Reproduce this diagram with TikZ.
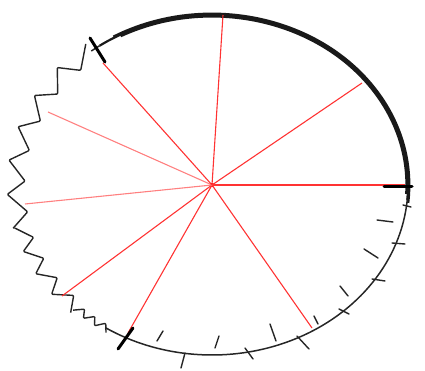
\documentclass[tikz,border=0pt]{standalone}
\newcommand\zigpart[5]{%
  \pgfmathsetmacro\rxo{196+#4}\pgfmathsetmacro\ryo{170+#4}%
  \pgfmathsetmacro\rxi{196-#4}\pgfmathsetmacro\ryi{170-#4}%
  \draw[wave] ([shift={(#1:\rxo pt and \ryo pt)}]c)
  \foreach \k in {1,...,#3} {
    -- ([shift={({#1+(\k-0.5+#5)*#2}:\rxi pt and \ryi pt)}]c)
    -- ([shift={({#1+\k*#2}:\rxo pt and \ryo pt)}]c)
  };}
\begin{document}
\begin{tikzpicture}[x=1pt,y=1pt,
  redline/.style={draw=red!80!white, line width=1.1pt},
  palered/.style={draw=red!50!white, line width=1.1pt},
  rim/.style={line width=1.5pt, black!85},
  thickrim/.style={line width=2.2pt, black!90},
  tickmark/.style={line width=1.4pt, black!85, line cap=round},
  bigtick/.style={line width=3pt, black, line cap=round},
  wave/.style={line width=1.4pt, black!85, line join=round, rounded corners=1pt},
]
\useasboundingbox (0,0) rectangle (425,371);
\coordinate (c) at (212,186);
% red radii end points
\coordinate (e1) at (223,356);
\coordinate (e2) at (362,288);
\coordinate (e3) at (405,186);
\coordinate (e4) at (312,43);
\coordinate (e5) at (128,38);
\coordinate (e6) at (62,75);
\coordinate (e7) at (25,167);
\coordinate (e8) at (48,259);
\coordinate (e9) at (103,308);
% thick top arc (several strokes)
\draw[thickrim] ([shift={(125:196pt and 170pt)}]c) arc[start angle=125,end angle=-5,x radius=196pt,y radius=170pt];
\draw[thickrim] ([shift={(118:194.5pt and 168.5pt)}]c) arc[start angle=118,end angle=-3,x radius=194.5pt,y radius=168.5pt];
\draw[thickrim] ([shift={(120:197.3pt and 171.3pt)}]c) arc[start angle=120,end angle=-6,x radius=197.3pt,y radius=171.3pt];
% thin bottom arc
\draw[rim] ([shift={(-5:196pt and 170pt)}]c) arc[start angle=-5,end angle=-116,x radius=196pt,y radius=170pt];
% wavy left arc
\draw[rim] ([shift={(125:196pt and 170pt)}]c) arc[start angle=125,end angle=128,x radius=196pt,y radius=170pt];
\zigpart{128}{11}{6}{9}{0.1}
\zigpart{194}{8}{4}{7.5}{0.1}
\zigpart{226}{4}{3}{4}{0.1}
\draw[rim] ([shift={(237:196pt and 170pt)}]c) arc[start angle=237,end angle=244,x radius=196pt,y radius=170pt];
% red radii
\node[circle, fill=red, inner sep=1.5pt] (o) at (c) {};
\draw[redline] (o.center) -- (e1);
\draw[redline] (o.center) -- (e2);
\draw[redline] (o.center) -- (e3);
\draw[redline] (o.center) -- (e4);
\draw[redline] (o.center) -- (e5);
\draw[redline] (o.center) -- (e6);
\draw[palered] (o.center) -- (e7);
\draw[palered] (o.center) -- (e8);
\draw[redline] (o.center) -- (e9);
% big ticks
\draw[bigtick] (90,333) -- (105,309);
\draw[bigtick] (133,43) -- (118,22);
\draw[bigtick] (384,184) -- (412,184);
% small ticks
\draw[tickmark] (403,166) -- (411,164);
\draw[tickmark] (377,151) -- (393,149);
\draw[tickmark] (392,128) -- (405,127);
\draw[tickmark] (364,122) -- (378,113);
\draw[tickmark] (372,92) -- (385,90);
\draw[tickmark] (340,85) -- (348,75);
\draw[tickmark] (339,62) -- (349,57);
\draw[tickmark] (314,55) -- (318,47);
\draw[tickmark] (297,35) -- (309,22);
\draw[tickmark] (270,47) -- (276,30);
\draw[tickmark] (245,23) -- (253,12);
\draw[tickmark] (219,35) -- (215,23);
\draw[tickmark] (163,40) -- (157,30);
\draw[tickmark] (185,18) -- (181,3);
\end{tikzpicture}
\end{document}
